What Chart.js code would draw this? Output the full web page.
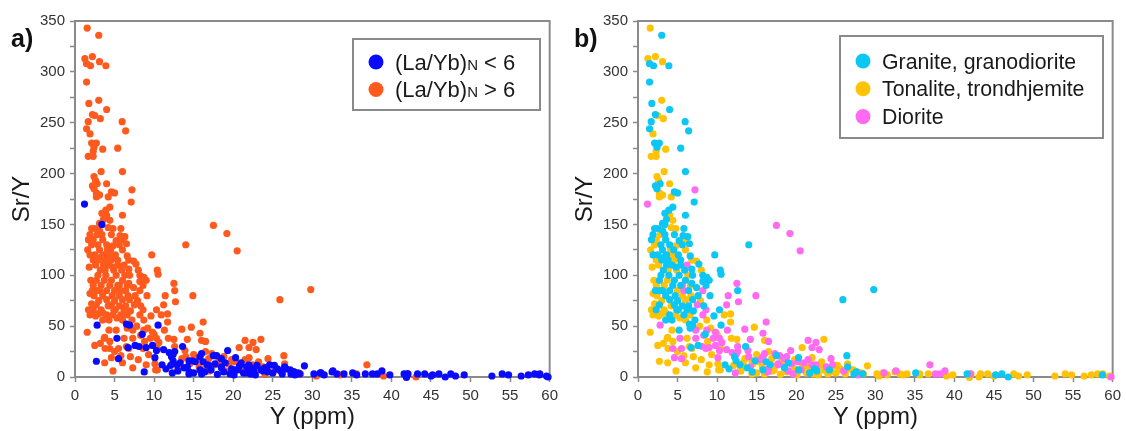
<!DOCTYPE html>
<html><head><meta charset="utf-8">
<script src="https://cdn.jsdelivr.net/npm/chart.js@4/dist/chart.umd.min.js"></script>
<style>
html,body{margin:0;padding:0;background:#fff;}
#wrap{position:relative;width:1126px;height:431px;overflow:hidden;}
.pane{position:absolute;top:0;width:563px;height:431px;}
canvas{display:block;}
</style></head><body>
<div id="wrap">
<div class="pane" style="left:0"><canvas id="ca" width="563" height="431"></canvas></div>
<div class="pane" style="left:563px"><canvas id="cb" width="563" height="431"></canvas></div>
</div>
<script>
// ---------- DATA: [Y (ppm), Sr/Y] ----------
// Granite, granodiorite with (La/Yb)N > 6
const graniteHigh = [
[3.0,336],[1.46,308],[1.96,306],[3.9,306],[1.46,290],[1.75,269],[4.0,263],[2.2,258],[1.67,251],[5.96,251],
[1.46,244],[6.4,242],[2.1,230],[2.7,230],[2.4,226],[5.4,225],[6.0,202],[2.2,188],[2.4,185],[2.8,190],
[4.6,182],[5.0,181],[7.1,172],[4.4,167],[3.9,164],[6.0,159],[3.4,161],[3.6,155],[3.1,151],
[2.1,146],[2.5,146],[3.1,144],[5.8,146],[1.9,140],[3.4,140],[4.6,140],[5.7,139],[6.3,138],
[1.7,135],[3.5,135],[5.2,134],[2.9,130],[4.0,130],[5.6,130],[6.5,131],[3.1,125],[4.5,125],
[1.9,120],[3.6,120],[5.1,120],[6.6,119],[9.7,120],[3.0,115],[3.8,115],[5.4,115],
[3.6,110],[4.3,110],[5.4,110],[7.7,111],[3.2,105],[5.9,105],[6.8,106],[10.4,105],[10.5,101],
[2.9,100],[3.9,100],[5.2,100],[6.9,100],[8.2,100],[8.7,98],[4.6,95],[6.0,95],[8.2,94],[9.0,95],
[4.4,90],[8.6,90],[2.2,85],[2.7,85],[4.0,85],[6.4,85],[12.6,85],[3.5,80],[4.7,80],[7.6,80],[9.1,80],
[4.0,76],[5.0,75],[6.9,76],[25.9,76],[29.8,86],[14.0,130],
[2.7,71],[4.6,71],[5.6,70],[6.4,70],[8.3,70],[2.3,66],[5.1,66],[6.2,66],[7.0,65],[10.3,66],
[4.0,61],[5.8,61],[9.6,60],[3.5,56],[4.3,56],[7.2,56],[5.2,46],[26.4,21],
[2.5,120],[3.3,118],[4.8,108],[2.7,95],[3.1,85],[5.4,90],[6.8,92],[7.4,88],[4.9,66],[6.6,48]
];
// Granite, granodiorite with (La/Yb)N < 6
const graniteLow = [
[3.4,150],[6.5,52],[6.9,51],[10.5,51],[8.5,42],[6.7,29],[7.6,31],[11.0,12],[11.5,8],[12.2,20],
[12.4,16],[12.9,12],[13.6,30],[17.5,21],[20.3,19],[16.2,15],[14.45,5],[15.8,7],[18.5,9],[20.3,7],
[22.3,8],[22.6,6],[27.3,3],[27.6,5],[28.4,3],[35.1,4],[41.6,3],[45.2,2],[46.0,3],[46.8,0],[58.7,2],
[13.8,9],[16.7,12],[19.0,14],[21.7,4],[24.2,7],[26.5,10],[14.8,16]
];
// Tonalite, trondhjemite with (La/Yb)N > 6
const tonaliteHigh = [
[1.54,343],[1.25,313],[2.2,315],[3.1,310],[3.0,272],[2.5,257],[3.2,254],[1.9,239],[2.3,222],[3.5,224],
[1.67,217],[2.3,217],[3.3,202],[2.4,197],[2.6,193],[4.0,190],[2.7,181],[3.1,179],[2.7,177],[4.2,177],
[4.0,159],[4.4,154],[4.2,147],[4.8,146],[2.8,140],[2.3,135],[6.0,135],[2.1,130],[4.8,129],[4.1,125],
[6.0,125],[4.3,120],[2.3,115],[4.6,115],[6.8,115],[7.4,114],[2.6,110],[3.8,105],[4.9,105],[8.0,105],
[6.3,100],[3.7,95],[2.3,90],[3.3,90],[6.6,90],[5.0,85],[2.4,80],[5.6,80],[6.7,80],[6.0,76],[7.9,75],
[1.7,66],[3.3,66],[1.9,61],[4.8,61],[6.6,61],[10.9,61],[11.7,62],[11.7,54],[6.0,56],[8.7,56],[4.3,46],
[14.7,49],[1.54,44],[3.7,38],[6.2,38],[11.8,38],[12.5,37],[16.0,36],[23.5,37],[2.5,31],[3.8,28],
[6.8,28],[10.4,28],[20.75,29],[16.9,18],[3.75,14],[14.5,13],[24.8,11.5],[26.5,13],[4.8,6],[7.3,9],
[10.2,7],[10.1,13],[10.4,7],[15.7,10],[21.0,10],[25.4,7],[27.5,5],[43.1,0],[35.6,3],
[2.9,62],[3.5,63],[2.6,60],[3.75,39],[4.4,35],[5.8,21],[6.5,30],[3.2,33],[5.0,25],[6.0,14],
[7.0,20],[8.0,17],[9.3,22],[9.0,12],[13.5,18],[15.0,22],[16.5,25],[18.2,16],[19.8,17],[22.0,19],
[23.2,15],[13.0,8],[17.0,6],[20.0,4],[24.0,3],[28.5,3],[30.5,1],[33.5,2],[39.0,1],
[1.6,125],[1.8,108],[2.0,95],[1.9,82],[2.1,72],[3.0,75],[4.2,70],[5.3,58],[7.8,50],[9.2,48],[10.0,42],[8.8,35]
];
// Tonalite, trondhjemite with (La/Yb)N < 6
const tonaliteLow = [
[2.7,15.5],[8.75,5],[14.4,16],[15.2,15],[12.1,11.5],[13.3,14],[16.9,11.5],[18.0,2.5],[19.8,8],[21.7,10],
[23.0,11.5],[24.4,5],[25.2,11.5],[26.7,8],[29.0,11],[30.2,3],[31.0,4],[31.5,2],[32.5,5],[33.1,3],
[34.0,3],[35.6,2],[36.7,3],[39.8,2],[42.1,3],[41.9,-0.5],[43.3,3],[44.2,3],[45.0,1],[47.5,3],
[48.1,1],[49.2,2],[52.7,1],[54.0,3],[54.8,2],[56.4,1],[57.3,2],[58.1,3],[58.75,3],[59.6,1],
[16.0,3],[20.1,2],[22.2,3],[14.4,3],[25.6,8],[27.7,5],[23.5,7],
[13.0,6],[15.0,4],[17.2,7],[18.8,5],[20.8,11],[21.3,4],[22.8,2],[23.8,6],[25.0,4],[26.2,3],[27.2,7],[28.2,4]
];
// Diorite with (La/Yb)N > 6
const dioriteHigh = [
[7.2,184],[17.5,149],[19.2,141],[20.5,124],[6.2,110],[5.6,90],[5.8,85],[8.2,85],[11.4,80],[12.5,92],
[12.7,74],[14.9,80],[7.5,71],[11.2,71],[8.6,66],[8.2,61],[16.2,54],[7.3,46],[8.7,46],[11.3,46],
[13.5,47],[15.8,43],[7.3,38],[9.5,38],[10.3,38],[14.2,37],[16.5,35],[21.5,36],[22.5,34],[4.4,28],
[5.5,28],[8.6,28],[12.6,30],[13.9,26],[22.0,29],[22.9,27],[24.4,18],[21.5,17],[17.3,23],[4.6,19],
[17.7,12],[19.4,13],[36.9,12],[8.3,41],[10.6,34],[9.8,44],[14.0,20],[15.5,17],[18.8,20],[20.2,15],
[22.5,12],[23.8,10],[16.5,8],[19.0,6]
];
// Diorite with (La/Yb)N < 6
const dioriteLow = [
[1.2,170],[2.8,51],[5.3,38],[5.5,18],[8.1,30],[9.0,29],[9.8,31],[10.3,26],[10.1,19],[11.2,27],
[12.6,25],[12.3,4],[16.0,23],[15.8,20],[17.9,21],[18.5,18],[19.3,26],[21.0,14],[17.7,13],[18.5,10],
[20.6,7],[22.5,8],[24.0,9],[26.0,6],[11.9,24],[12.4,22],[14.2,10],[16.4,5],[19.6,3],[22.0,12],
[24.6,12],[27.8,2],[31.1,4],[32.6,6],[38.8,6],[38.2,3],[37.6,3],[42.0,3],[59.8,0]
];
const xTicks = {min:0, max:60, step:5};
const yTicks = {min:0, max:350, step:25, labelEvery:50};
const xTitle = 'Y (ppm)';
const yTitle = 'Sr/Y';

// ---------- helpers ----------
const FONT = '"Liberation Sans", Arial, Helvetica, sans-serif';
const toPts = arr => arr.map(p => ({x:p[0], y:p[1]}));
const C = {blue:'#0a0aff', orange:'#ff5a1e', cyan:'#0cc6f4', yellow:'#ffc205', magenta:'#ff6af0'};

const framePlugin = {
  id:'frame',
  beforeDatasetsDraw(chart){
    const {ctx, chartArea:a} = chart;
    ctx.save();
    ctx.strokeStyle = '#8a8a8a'; ctx.lineWidth = 2;
    ctx.strokeRect(a.left, a.top, a.right - a.left, a.bottom - a.top);
    ctx.restore();
  }
};
const decorPlugin = {
  id:'decor',
  afterDraw(chart, args, o){
    const ctx = chart.ctx;
    ctx.save();
    ctx.font = 'bold 25px ' + FONT;
    ctx.fillStyle = '#111'; ctx.textBaseline = 'middle'; ctx.textAlign = 'left';
    ctx.fillText(o.label, o.labelX, o.labelY);
    const b = o.box;
    ctx.fillStyle = '#fff'; ctx.fillRect(b.x, b.y, b.w, b.h);
    ctx.strokeStyle = '#8a8a8a'; ctx.lineWidth = 2; ctx.strokeRect(b.x, b.y, b.w, b.h);
    ctx.textBaseline = 'alphabetic';
    o.items.forEach((it, i) => {
      const y = b.firstY + i * b.step;
      ctx.beginPath(); ctx.arc(b.dotX, y, b.r, 0, Math.PI * 2);
      ctx.fillStyle = it.color; ctx.fill();
      let x = b.textX;
      ctx.fillStyle = '#1a1a1a';
      it.parts.forEach(p => {
        ctx.font = p.size + 'px ' + FONT;
        ctx.fillText(p.t, x, y + b.base);
        x += ctx.measureText(p.t).width;
      });
    });
    ctx.restore();
  }
};

function scalesCfg(){
  const tickFont = {family:FONT, size:15};
  return {
    x:{type:'linear', min:xTicks.min, max:xTicks.max,
       ticks:{stepSize:xTicks.step, autoSkip:false, maxRotation:0, color:'#333', font:tickFont, padding:5},
       grid:{drawOnChartArea:false, drawTicks:true, tickLength:5, tickColor:'#8a8a8a', tickWidth:1.5},
       border:{display:false},
       title:{display:true, text:xTitle, color:'#1a1a1a', font:{family:FONT, size:24}, padding:{top:0,bottom:-1}},
       afterFit(s){ s.height = 54; }},
    y:{type:'linear', min:yTicks.min, max:yTicks.max,
       ticks:{stepSize:yTicks.step, autoSkip:false, color:'#333', font:tickFont, padding:5,
              callback:v => (v % yTicks.labelEvery === 0 ? String(v) : '')},
       grid:{drawOnChartArea:false, drawTicks:true, tickLength:5, tickColor:'#8a8a8a', tickWidth:1.5},
       border:{display:false},
       title:{display:true, text:yTitle, color:'#1a1a1a', font:{family:FONT, size:24}, padding:{top:8,bottom:0}},
       afterFit(s){ s.width = 75; }}
  };
}
function ds(label, arr, color, order){
  return {label, data:toPts(arr), backgroundColor:color, borderWidth:0, pointRadius:3.6,
          pointHoverRadius:3.6, clip:false, order:order||0};
}
function make(id, datasets, decor){
  return new Chart(document.getElementById(id), {
    type:'scatter',
    data:{datasets},
    options:{
      responsive:false, animation:false, events:[],
      layout:{padding:{top:21, right:8, left:0, bottom:0}},
      plugins:{legend:{display:false}, tooltip:{enabled:false}, decor},
      scales:scalesCfg()
    },
    plugins:[framePlugin, decorPlugin]
  });
}

make('ca', [
  ds('(La/Yb)N < 6', [...graniteLow, ...tonaliteLow, ...dioriteLow], C.blue),
  ds('(La/Yb)N > 6', [...graniteHigh, ...tonaliteHigh, ...dioriteHigh], C.orange)
], {
  label:'a)', labelX:11, labelY:40,
  box:{x:353, y:39, w:187, h:71, firstY:62, step:27.5, dotX:376, r:7.5, textX:395, base:7.5},
  items:[
    {color:C.blue, parts:[{t:'(La/Yb)',size:22},{t:'N',size:15},{t:' < 6',size:22}]},
    {color:C.orange, parts:[{t:'(La/Yb)',size:22},{t:'N',size:15},{t:' > 6',size:22}]}
  ]
});

make('cb', [
  ds('Granite, granodiorite', [...graniteHigh, ...graniteLow], C.cyan, 0),
  ds('Tonalite, trondhjemite', [...tonaliteHigh, ...tonaliteLow], C.yellow, 2),
  ds('Diorite', [...dioriteHigh, ...dioriteLow], C.magenta, 1)
], {
  label:'b)', labelX:11, labelY:40,
  box:{x:277, y:36, w:263, h:102, firstY:61, step:27.8, dotX:300, r:7.5, textX:319, base:7.5},
  items:[
    {color:C.cyan, parts:[{t:'Granite, granodiorite',size:21.3}]},
    {color:C.yellow, parts:[{t:'Tonalite, trondhjemite',size:21.3}]},
    {color:C.magenta, parts:[{t:'Diorite',size:21.3}]}
  ]
});
</script>
</body></html>
